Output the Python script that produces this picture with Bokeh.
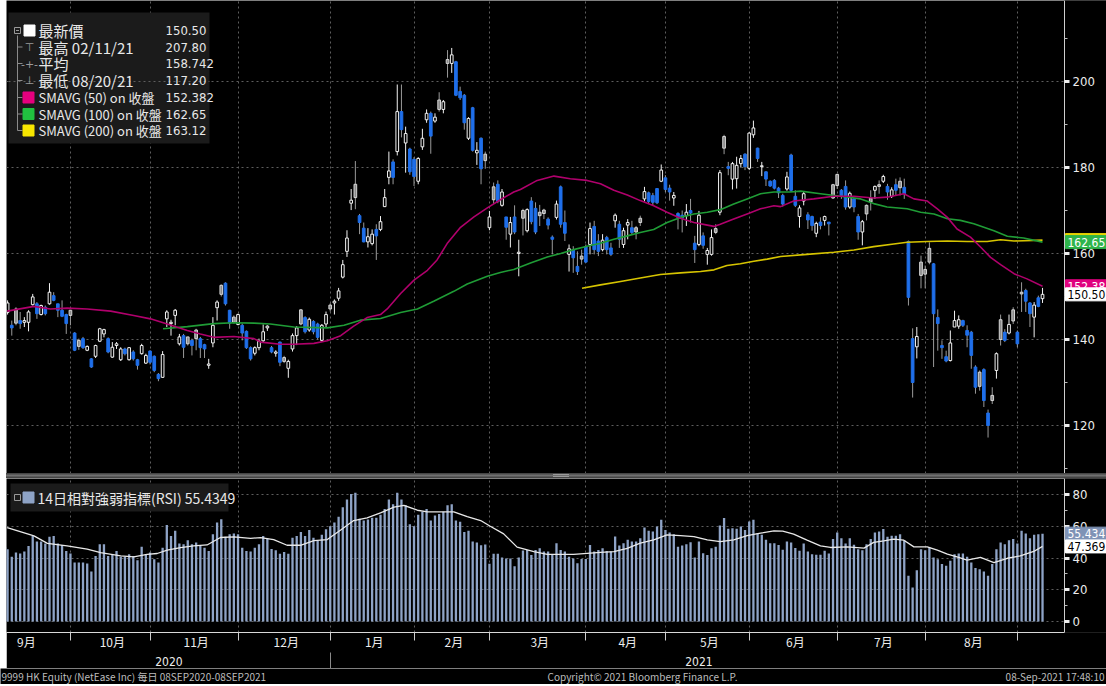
import numpy as np
import pandas as pd
from bokeh.plotting import figure
from bokeh.models import ColumnDataSource, Range1d, LinearAxis, FixedTicker, Grid, Label, Div, Spacer
from bokeh.layouts import column, row
from bokeh.embed import file_html
from bokeh.resources import INLINE
from bokeh.core.properties import value

# ---------------- data ----------------
hk_holidays = ["2020-10-01", "2020-10-02", "2020-10-26", "2020-12-25", "2021-01-01",
               "2021-02-12", "2021-02-15", "2021-04-02", "2021-04-05", "2021-04-06",
               "2021-05-19", "2021-06-14", "2021-07-01"]
first_day, last_day = "2020-09-08", "2021-09-08"

opens = [
147.0,146.3,143.3,147.1,144.4,144.0,144.0,148.1,148.3,145.8,
147.5,148.3,150.2,148.3,146.8,145.8,146.8,141.5,139.8,140.2,
137.5,135.5,136.1,139.6,141.3,140.2,135.9,138.6,135.3,137.8,
135.3,137.1,135.3,136.7,134.5,137.3,136.1,131.9,131.2,144.8,
143.7,145.6,139.0,140.9,140.6,139.8,142.2,140.2,138.8,134.0,
139.2,147.4,152.6,153.1,146.8,145.2,143.5,143.3,141.9,138.1,
136.8,138.1,139.7,142.7,138.1,136.8,139.4,135.8,133.3,137.8,
140.9,146.9,145.1,142.2,144.2,143.6,139.8,143.6,148.0,148.5,
149.6,154.5,160.5,171.7,176.1,168.8,165.9,162.7,162.3,165.6,
165.6,170.9,177.7,181.3,183.7,193.0,185.7,184.3,181.9,176.8,
184.8,191.1,192.6,190.8,195.7,193.5,205.1,204.2,204.6,197.7,
196.8,186.8,193.9,183.4,186.8,183.1,166.0,175.5,176.1,171.2,
168.5,164.5,168.5,160.0,170.0,165.3,172.2,170.5,169.6,170.1,
168.0,163.8,168.4,175.5,167.2,159.8,160.9,157.0,159.4,161.6,
162.1,166.3,162.9,160.9,163.7,161.3,167.6,166.8,162.1,166.6,
166.0,166.0,168.2,172.7,174.1,173.5,175.1,176.8,177.6,175.2,
172.9,169.3,168.9,168.8,170.0,162.4,162.1,164.1,159.8,159.8,
165.8,169.6,187.2,180.2,177.3,177.4,180.9,183.1,179.8,187.6,
184.5,180.2,179.0,176.8,177.0,175.2,173.5,175.0,182.9,173.3,
168.6,172.2,169.0,168.6,164.7,167.3,167.7,167.3,176.0,178.4,
174.7,175.6,170.8,172.7,168.6,165.0,171.2,172.9,174.7,176.0,
176.8,175.6,173.3,176.0,176.8,175.4,162.8,140.2,138.3,158.0,
156.3,161.2,157.6,145.1,138.6,136.0,135.1,142.9,143.1,144.4,
142.1,141.7,133.6,132.4,133.0,122.9,127.0,132.8,144.6,141.7,
141.5,146.9,141.7,151.0,151.4,148.5,145.2,149.7,149.5]

highs = [
148.0,149.1,144.4,147.5,146.4,145.2,146.8,150.6,148.7,148.1,
147.9,153.1,151.0,148.3,149.1,146.0,146.9,141.7,140.2,140.6,
138.6,135.7,138.8,142.7,142.5,140.5,139.4,139.4,138.2,138.1,
138.2,137.5,135.5,139.0,136.7,137.5,136.3,132.2,137.3,146.8,
144.6,147.1,141.3,141.3,140.6,140.2,142.5,140.6,139.0,135.5,
145.2,149.1,152.8,153.3,146.9,145.6,146.0,143.7,142.1,138.4,
138.4,140.2,143.5,143.3,138.5,137.5,139.5,136.2,135.3,141.4,
143.1,147.0,145.4,145.1,144.5,143.9,143.6,146.5,148.4,149.3,
152.0,158.5,165.4,175.0,181.5,169.2,167.2,165.9,165.6,166.8,
168.7,175.0,183.7,181.9,199.3,199.3,189.5,184.6,182.4,182.4,
189.0,193.5,193.0,192.6,197.5,195.7,207.3,207.8,204.8,198.8,
197.1,191.7,194.1,185.9,187.0,183.7,169.9,176.5,177.0,175.0,
168.5,168.5,171.2,163.2,170.4,170.5,173.1,171.9,171.3,170.4,
168.4,164.2,172.3,175.8,170.0,162.1,161.7,160.5,160.9,162.1,
167.2,167.6,164.5,164.5,164.1,162.5,169.3,167.6,166.0,168.0,
167.6,166.4,168.8,175.5,174.4,174.1,175.2,180.7,178.2,176.0,
174.3,169.6,170.0,171.5,172.7,164.1,169.9,164.9,161.3,165.6,
166.8,179.4,187.6,181.3,181.3,182.5,182.9,183.3,188.2,190.9,
184.6,181.3,179.1,177.0,177.3,175.5,173.9,179.0,183.2,174.7,
171.2,174.3,169.6,168.8,167.4,168.4,168.8,167.3,176.2,178.5,
175.0,177.0,174.4,172.9,169.2,167.8,171.4,174.7,175.8,177.0,
178.3,176.2,175.4,177.4,177.7,177.4,163.0,142.6,142.9,159.5,
157.2,162.6,157.8,147.0,139.8,137.4,142.1,146.7,145.6,144.6,
143.3,142.0,134.0,132.8,133.3,123.7,128.9,137.0,145.8,142.4,
145.8,147.5,142.1,153.3,151.8,148.7,148.7,150.2,152.0]

lows = [
145.5,145.8,140.9,143.3,142.5,142.9,141.9,147.9,144.8,145.6,
145.6,148.1,148.9,145.2,145.2,141.3,143.3,137.3,137.6,137.8,
137.3,133.4,135.7,139.4,140.5,136.8,135.7,137.8,135.0,136.3,
135.1,135.1,133.0,136.5,134.3,134.2,132.4,130.3,131.1,142.9,
140.9,143.3,138.6,135.7,138.6,136.3,137.5,135.7,135.7,133.2,
138.2,144.4,150.0,147.9,142.5,143.7,143.3,139.8,137.8,135.1,
136.3,137.5,139.3,142.0,136.8,136.0,133.8,134.5,131.1,137.2,
138.7,143.3,141.4,141.8,141.2,140.0,139.6,142.7,146.5,145.8,
149.0,154.2,159.2,170.1,170.3,164.5,162.6,161.4,161.9,158.5,
165.2,170.8,176.1,176.1,182.8,187.0,178.8,178.3,175.7,176.1,
184.1,190.4,183.2,190.4,193.0,192.6,200.9,202.0,196.6,195.7,
188.8,186.4,183.7,180.6,176.1,179.7,165.4,171.5,171.7,170.9,
163.2,161.4,164.5,154.7,164.2,164.9,166.8,164.5,166.4,168.0,
165.6,159.8,167.9,166.0,162.9,155.8,155.5,155.0,157.4,157.8,
159.8,159.8,159.4,160.5,159.8,159.4,166.0,161.3,161.3,163.3,
164.5,163.3,166.4,172.1,171.5,171.1,171.5,176.6,174.3,172.3,
171.1,165.6,164.9,166.4,167.2,157.8,161.7,161.1,157.4,159.5,
164.5,168.9,183.1,178.2,174.9,175.1,180.0,179.4,179.4,186.9,
181.3,178.0,175.7,175.5,174.9,172.9,170.9,174.6,174.3,170.8,
166.0,171.2,165.7,165.3,163.8,165.6,166.5,164.2,172.7,175.0,
172.7,170.2,170.4,169.6,163.2,161.9,167.7,170.0,172.7,173.9,
176.4,172.5,172.9,173.5,173.5,172.7,147.9,126.5,135.6,151.9,
151.9,157.5,133.6,137.4,135.5,134.7,134.9,142.9,142.5,142.9,
138.2,133.2,127.4,128.1,124.3,117.2,125.0,130.9,138.6,139.4,
141.2,143.6,138.2,146.4,146.4,142.9,140.5,147.5,148.5]

closes = [
146.5,148.5,142.7,143.8,143.7,144.4,146.4,149.9,146.0,147.9,
146.0,151.0,149.1,146.8,145.4,143.7,145.6,137.5,138.4,138.1,
138.4,133.6,138.6,142.5,142.3,137.1,138.2,139.0,137.8,136.7,
138.1,135.5,134.0,138.6,136.3,134.7,132.8,130.9,136.5,146.4,
144.0,146.8,140.6,138.2,139.0,138.6,140.2,138.1,137.8,134.3,
143.3,148.7,150.5,148.3,143.8,144.0,145.8,141.5,138.1,135.5,
138.1,139.6,141.8,143.1,137.1,137.1,134.7,134.9,134.9,140.9,
142.7,143.6,141.8,144.7,141.8,140.5,143.3,145.8,147.1,148.9,
151.3,157.4,163.6,172.4,173.0,167.2,162.7,163.9,164.5,164.1,
167.4,173.0,179.2,177.7,193.0,188.8,187.9,179.0,177.9,182.1,
186.8,192.6,187.3,191.7,193.5,195.3,204.2,206.2,196.8,196.2,
190.4,191.4,184.0,184.0,179.7,181.6,168.5,172.5,172.1,174.3,
166.1,167.2,165.0,160.3,168.2,170.2,167.4,165.0,168.8,169.3,
166.6,163.3,171.5,166.8,164.7,161.1,159.0,155.8,158.7,158.0,
165.8,160.9,160.5,163.1,160.9,159.8,168.9,163.3,165.3,167.2,
164.9,165.0,167.2,174.4,172.1,171.9,171.8,179.4,174.9,174.3,
173.5,168.4,168.2,169.6,169.4,160.9,168.9,161.9,160.7,163.7,
164.9,178.8,184.5,179.8,180.9,180.5,182.1,180.2,188.0,189.2,
182.1,180.4,177.3,175.7,175.2,174.1,171.5,177.8,174.7,171.2,
170.6,173.9,167.8,166.5,167.0,166.5,168.6,166.9,172.9,175.8,
173.5,170.8,174.0,170.8,165.0,167.4,169.2,172.0,175.6,175.6,
177.9,174.3,174.8,174.7,175.3,173.9,149.8,130.0,140.7,154.9,
155.2,158.0,146.0,143.7,138.1,135.0,139.2,144.4,144.6,143.3,
141.0,136.3,128.9,129.1,125.8,120.0,125.8,136.7,140.0,139.8,
143.5,144.3,139.0,150.6,148.9,146.0,148.0,147.7,150.5]

rsi = [
47.0,45.6,40.8,43.5,42.9,44.1,47.7,54.0,50.4,50.4,
49.2,53.4,54.0,49.2,48.3,44.5,42.9,37.2,37.2,37.2,
36.6,31.5,41.4,48.7,48.7,41.4,42.0,44.5,40.8,40.8,
42.4,41.4,38.7,47.1,42.4,43.5,39.3,37.2,46.6,60.9,
54.0,57.2,49.2,48.7,51.3,48.7,49.8,47.7,46.6,44.5,
55.1,62.4,64.5,53.4,55.1,55.5,55.1,46.6,44.5,44.1,
46.6,48.7,54.0,52.4,45.7,45.0,42.8,43.8,42.8,52.9,
54.0,56.5,54.0,57.7,52.9,51.0,54.8,58.2,60.1,62.5,
66.1,72.1,76.9,80.5,81.3,64.9,63.7,64.4,65.4,65.4,
67.3,70.9,76.9,74.0,81.3,76.9,73.3,61.3,60.1,67.3,
69.2,70.9,63.7,66.8,67.8,69.2,73.3,74.0,63.7,63.0,
56.5,57.2,50.5,49.8,48.1,48.6,36.5,42.8,42.8,40.4,
39.7,39.7,34.9,40.4,44.8,45.1,41.9,45.1,46.2,44.1,
44.1,41.9,49.4,45.1,44.1,40.9,39.8,36.7,39.4,39.4,
48.3,44.1,45.1,46.2,44.5,44.1,53.6,47.9,49.4,51.5,
50.4,50.4,52.5,59.3,57.2,56.8,60.0,64.2,57.8,56.1,
55.1,47.2,47.9,48.7,50.0,40.3,50.4,43.0,41.9,46.2,
47.2,60.6,65.3,58.5,58.9,58.5,60.0,57.8,63.1,64.2,
55.7,54.7,51.5,49.4,49.4,48.3,45.3,50.5,49.9,46.3,
44.6,49.2,44.2,42.5,42.1,42.1,44.6,42.9,52.0,56.2,
52.6,49.2,52.6,48.4,45.6,45.0,48.8,52.0,56.2,56.8,
58.3,53.4,54.1,54.1,55.1,51.3,28.8,21.5,32.4,45.6,
45.0,46.7,40.4,39.3,36.2,35.1,38.3,42.5,42.9,42.9,
40.8,37.2,33.7,33.0,31.6,28.8,36.2,45.6,49.9,48.8,
51.3,52.0,49.2,57.2,55.5,52.6,54.7,55.1,55.43]

rsi_ma_x = [0.9,7.3,10.5,15.2,20.0,23.2,28.0,31.1,34.3,36.7,39.1,42.3,45.4,48.6,51.8,55.0,59.0,61.4,
            64.5,67.7,70.9,74.1,77.3,80.5,83.6,86.8,90.0,93.2,95.6,98.8,101.2,104.3,107.5,110.7,113.9,
            116.2,119.4,122.6,126.6,129.8,136.1,139.3,142.5,145.7,148.9,152.0,155.2,158.4,161.6,164.8,
            168.0,171.1,174.3,177.5,180.7,183.9,186.0,188.6,191.8,195.0,197.4,201.4,205.4,207.7,210.1,
            212.5,214.9,217.3,220.5,222.9,225.3,227.6,230.0,233.2,236.4,239.6,242.7,245.9,248.0]
rsi_ma_y = [59.3,54.0,49.3,47.7,45.6,43.5,41.4,40.8,42.4,42.9,45.0,46.6,47.7,48.3,53.0,53.4,52.5,52.9,
            51.7,48.1,48.1,51.0,51.7,57.7,63.7,65.4,68.5,72.1,73.3,70.2,69.2,69.2,69.2,66.1,63.7,
            60.1,55.3,46.9,44.1,42.4,42.4,43.0,43.6,44.1,46.2,49.4,51.5,54.7,54.2,53.6,
            51.5,50.4,51.5,54.2,55.7,57.2,57.0,55.1,51.3,47.7,46.7,47.1,46.3,49.9,50.9,
            52.0,51.3,47.1,47.1,45.0,42.5,40.8,38.7,40.4,37.2,39.9,41.4,44.2,47.369]

sma50_x = [0.9,7.3,11.2,15.2,20.0,25.6,31.1,35.1,39.1,43.9,47.0,50.2,55.0,59.8,61.4,66.1,69.3,74.1,
           77.3,80.5,83.6,86.8,90.0,91.6,94.8,98.0,101.2,103.5,105.9,109.1,112.3,115.5,118.6,121.8,
           123.4,127.4,131.4,135.3,139.3,142.5,145.7,148.9,152.0,155.2,158.4,161.6,164.8,168.0,169.6,
           171.1,174.3,177.5,180.7,183.9,185.5,188.6,193.4,198.2,203.0,207.7,210.9,214.9,217.3,220.5,
           222.9,225.3,227.6,230.8,233.2,235.6,238.0,241.2,244.3,248.0]
sma50_y = [146.6,147.7,147.1,147.3,147.1,146.6,145.6,144.8,143.6,142.1,141.3,140.5,140.7,140.2,139.4,138.9,138.9,139.1,
           139.7,140.9,143.1,145.1,145.8,147.1,150.7,153.8,156.1,158.5,162.3,166.1,168.5,170.6,172.5,174.3,
           174.9,177.0,178.0,177.4,177.0,176.2,174.7,173.6,172.3,171.1,169.6,168.2,167.2,166.6,166.3,
           166.8,168.0,169.2,170.4,171.1,170.9,172.2,172.7,173.3,173.3,172.9,173.1,173.9,172.7,172.2,
           170.4,168.4,165.7,163.8,161.5,159.1,157.4,155.3,154.1,152.382]

sma100_x = [38.1,43.9,50.2,55.0,59.8,63.7,69.3,77.3,81.3,85.2,90.0,94.8,98.8,102.7,107.5,110.7,115.5,118.6,
            121.8,125.8,129.8,133.0,136.1,139.3,142.5,145.7,148.9,152.0,155.2,158.4,161.6,164.8,168.0,171.1,
            174.3,177.5,180.7,183.9,187.8,190.3,195.0,199.8,204.6,207.7,210.9,215.7,218.9,222.1,225.3,228.4,
            231.6,236.4,239.6,243.5,248.0]
sma100_y = [142.5,143.0,143.7,143.9,143.8,143.6,142.9,142.7,143.3,144.5,144.9,146.3,147.1,148.9,151.2,152.9,154.7,155.6,
            156.3,157.8,159.2,160.0,160.9,161.7,162.4,163.3,164.1,164.9,165.6,167.2,168.4,169.2,169.6,170.2,
            171.5,172.7,173.9,174.3,174.3,174.5,173.9,173.3,172.7,171.6,170.8,170.4,169.6,169.2,168.1,167.7,
            166.9,165.3,164.0,163.6,162.65]

sma200_x = [138.1,142.5,147.3,152.0,156.8,161.6,166.4,169.6,172.7,175.9,179.1,182.3,185.5,191.8,198.2,203.0,
            207.7,212.5,215.7,220.5,225.3,230.0,234.8,238.0,241.2,248.0]
sma200_y = [151.9,152.7,153.5,154.3,155.1,155.5,155.8,156.2,157.2,157.6,158.2,158.7,159.3,159.8,160.3,160.8,
            161.6,162.2,162.6,162.8,162.9,162.8,162.8,163.2,162.9,163.12]

month_labels = ["9月", "10月", "11月", "12月", "1月", "2月", "3月", "4月", "5月", "6月", "7月", "8月"]
year_labels = ["2020", "2021"]
legend_names = ["最新價", "最高 02/11/21", "平均", "最低 08/20/21",
                "SMAVG (50)  on 收盤", "SMAVG (100)  on 收盤", "SMAVG (200)  on 收盤"]
legend_values = ["150.50", "207.80", "158.742", "117.20", "152.382", "162.65", "163.12"]
last_price, last_sma50, last_sma100, last_sma200 = 150.50, 152.382, 162.65, 163.12
last_rsi, last_rsi_ma = 55.4349, 47.369
rsi_title = "14日相對強弱指標(RSI) 55.4349"
footer_left = "9999 HK Equity (NetEase Inc)  每日 08SEP2020-08SEP2021"
footer_mid = "Copyright© 2021 Bloomberg Finance L.P."
footer_right = "08-Sep-2021 17:48:10"

# ---------------- calendar ----------------
hol = pd.to_datetime(hk_holidays)
dates = pd.bdate_range(first_day, last_day)
dates = dates[~dates.isin(hol)]
n = min(len(dates), len(closes))
dates = dates[:n]
idx = np.arange(n)
per = dates.to_period("M")
firsts, lasts = {}, {}
for i, m in enumerate(per):
    firsts.setdefault(m, i)
    lasts[m] = i
months = list(firsts.keys())
bounds = [firsts[m] - 1 for m in months[1:]]
label_pos, label_map = [], {}
for m, lab in zip(months, month_labels):
    cal = pd.bdate_range(m.start_time, m.end_time)
    ncal = int((~cal.isin(hol)).sum())
    pos = round((lasts[m] - (ncal - 1) / 2.0) * 2) / 2.0
    label_pos.append(pos)
    label_map[pos] = lab

# geometry (page px): frame starts at x=6, candle i at 2.9 + 4.19*i, price scale at x=1064
LEFT = 6
W = 1100
PXU = 4.19
X0 = (LEFT - 2.9) / PXU
X1 = (1064 - 2.9) / PXU
XE = X0 + W / PXU

years = sorted(set(d.year for d in dates))
year_pos, year_map = [], {}
for k, (yv, lab) in enumerate(zip(years, year_labels)):
    ii = [i for i, d in enumerate(dates) if d.year == yv]
    hi = X1 if k == len(years) - 1 else ii[-1]
    pos = round(((max(ii[0], X0) + hi) / 2.0) * 2) / 2.0
    year_pos.append(pos)
    year_map[pos] = lab
year_sep = [firsts[m] - 1 for m in months if m.month == 1]

o = np.array(opens[:n]); c = np.array(closes[:n])
h = np.maximum.reduce([np.array(highs[:n]), o, c])
l = np.minimum.reduce([np.array(lows[:n]), o, c])
prev = np.concatenate([[c[0]], c[:-1]])
up = c >= o
grey = (~up) & (c >= prev)
BLUE = "#1f6fea"
fill = np.where(up, "black", np.where(grey, "#8a8a8a", BLUE))
line = np.where(up, "#f2f2f2", np.where(grey, "#d6d6d6", BLUE))
wick = np.where(up, "#f2f2f2", "#9a9a9a")

FONT = "Liberation Sans Narrow, DejaVu Sans Condensed, Noto Sans CJK TC, sans-serif"
CJK = "Liberation Sans Narrow, Noto Sans CJK TC, sans-serif"
GRID = "#5e5e5e"


def base_fig(h_frame, y0, y1):
    f = figure(frame_width=W, frame_height=h_frame, x_range=Range1d(X0, XE), y_range=Range1d(y0, y1),
               x_axis_location=None, y_axis_location=None, toolbar_location=None, output_backend="svg",
               background_fill_color="black", border_fill_color="black", outline_line_color=None,
               min_border=0)
    f.grid.visible = False
    return f


def style_axis(ax, ticks, minor):
    ax.ticker = FixedTicker(ticks=ticks, minor_ticks=minor)
    ax.axis_line_color = "#cfcfcf"
    ax.major_tick_line_color = "#eeeeee"
    ax.major_tick_line_width = 3
    ax.major_tick_out = 5
    ax.major_tick_in = 0
    ax.minor_tick_line_color = "#bbbbbb"
    ax.minor_tick_out = 3
    ax.minor_tick_in = 0
    ax.major_label_text_color = "#ececec"
    ax.major_label_text_font = FONT
    ax.major_label_text_font_size = "13px"
    ax.major_label_standoff = 3


def fx(px):
    return X0 + (px - LEFT) / PXU


def txt(fig, x, y, s, size="13px", color="#e8e8e8", font=FONT, align="left"):
    fig.text(x=[x], y=[y], text=[s], text_font=value(font), text_font_size=size, text_color=color,
             text_align=align, text_baseline="middle")


def tag(fig, y, s, bg, fg):
    fig.add_layout(Label(x=X1, y=y, x_units="data", y_units="data", text=s, x_offset=1,
                         text_align="left", text_baseline="middle", text_font=FONT, text_font_size="12px",
                         text_color=fg, background_fill_color=bg, border_line_color=bg, padding=2))


# ---------------- price panel (frame y 0..473, 200 at y=81, 4.3 px per unit) ----------------
PH = 473
p = base_fig(PH, 120 - (PH - 425) / 4.3, 200 + 81 / 4.3)
p.add_layout(Grid(dimension=0, ticker=FixedTicker(ticks=bounds), grid_line_color=GRID, grid_line_dash="2 3"))
p.add_layout(Grid(dimension=1, ticker=FixedTicker(ticks=[120, 140, 160, 180, 200]),
                  grid_line_color=GRID, grid_line_dash="2 3"))
p.quad(left=[X1], right=[XE + 5], bottom=[0], top=[400], fill_color="black", line_color=None)
pax = LinearAxis(fixed_location=X1)
style_axis(pax, [120, 140, 160, 180, 200], [110, 130, 150, 170, 190, 210])
p.add_layout(pax, "right")

src = ColumnDataSource(dict(x=idx, o=o, h=h, l=l, c=c, top=np.maximum(o, c), bot=np.minimum(o, c),
                            fill=fill, line=line, wick=wick))
p.segment(x0="x", y0="l", x1="x", y1="h", line_color="wick", line_width=1, source=src)
p.vbar(x="x", width=0.64, top="top", bottom="bot", fill_color="fill", line_color="line",
       line_width=1, source=src)

p.line(sma200_x, sma200_y, line_color="#d6c400", line_width=1.6)
p.line(sma100_x, sma100_y, line_color="#1f9c36", line_width=1.6)
p.line(sma50_x, sma50_y, line_color="#b0006c", line_width=1.6)


def fy(py):
    return 200 - (py - 81) / 4.3


# legend box
p.quad(left=fx(8), right=fx(209), top=fy(12), bottom=fy(143), fill_color="#1b1b1b", line_color=None)
p.segment(x0=[fx(8)], y0=[200], x1=[fx(209)], y1=[200], line_color=GRID, line_dash="2 3")
rows = [30, 46.5, 63, 80, 97, 113.5, 130]
p.segment(x0=[fx(17)], y0=[fy(35)], x1=[fx(17)], y1=[fy(130)], line_color="#8a8a8a", line_width=1)
p.segment(x0=[fx(17)] * 6, y0=[fy(r) for r in rows[1:]], x1=[fx(22)] * 6, y1=[fy(r) for r in rows[1:]],
          line_color="#8a8a8a", line_width=1)
p.quad(left=fx(14), right=fx(20), top=fy(27), bottom=fy(33), fill_color="#1b1b1b", line_color="#9a9a9a")
p.segment(x0=[fx(15.5)], y0=[fy(30)], x1=[fx(18.5)], y1=[fy(30)], line_color="#9a9a9a")
p.scatter([fx(29)], [fy(rows[0])], marker="square", size=11, fill_color="white", line_color="white")
for r, s in zip(rows[1:4], ["⊤", "-+-", "⊥"]):
    txt(p, fx(29), fy(r), s, size="11px", color="#9a9a9a", font="DejaVu Sans", align="center")
for r, col in zip(rows[4:], ["#e6007e", "#21c140", "#f7e600"]):
    p.scatter([fx(28)], [fy(r)], marker="square", size=11, fill_color=col, line_color=col)
for k, (r, s, v) in enumerate(zip(rows, legend_names, legend_values)):
    txt(p, fx(38), fy(r), s, size=("15px" if k < 4 else "13px"), font=CJK)
    txt(p, fx(165), fy(r), v, size="13px")

tag(p, last_sma200, "163.12", "#e6d400", "black")
tag(p, last_sma100, "162.65", "#2fb44b", "white")
tag(p, last_sma50, "152.38", "#e0007f", "white")
tag(p, last_price, "150.50", "white", "black")

grip = ("<div style='position:absolute;left:547px;top:1px;width:16px;height:3px;"
        "border-top:1px solid #9a9a9a;border-bottom:1px solid #9a9a9a;'></div>")
divider = Div(text=grip, width=W, height=5, margin=0,
              styles={"background": "linear-gradient(#3a3a3a, #707070, #3a3a3a)", "position": "relative",
                      "overflow": "hidden"})

# ---------------- RSI panel ----------------
p2 = base_fig(154, (624 - 635) / 1.585, (624 - 481) / 1.585)
p2.add_layout(Grid(dimension=0, ticker=FixedTicker(ticks=bounds), grid_line_color=GRID, grid_line_dash="2 3"))
p2.add_layout(Grid(dimension=1, ticker=FixedTicker(ticks=[0, 20, 40, 60, 80]),
                   grid_line_color=GRID, grid_line_dash="2 3"))
p2.quad(left=[X1], right=[XE + 5], bottom=[-50], top=[200], fill_color="black", line_color=None)
rax = LinearAxis(fixed_location=X1)
style_axis(rax, [0, 20, 40, 60, 80], [10, 30, 50, 70])
p2.add_layout(rax, "right")

p2.vbar(x=idx, top=np.array(rsi[:n]), bottom=0, width=0.55, fill_color="#8ea3c6", line_color=None)
p2.line(rsi_ma_x, rsi_ma_y, line_color="#e8e8e8", line_width=1.3)


def fr(py):
    return (624 - py) / 1.585


p2.quad(left=fx(10), right=fx(228), top=fr(486), bottom=fr(514), fill_color="#1b1b1b", line_color=None)
p2.quad(left=fx(14), right=fx(20), top=fr(497), bottom=fr(503), fill_color="#1b1b1b", line_color="#9a9a9a")
p2.scatter([fx(28)], [fr(500)], marker="square", size=11, fill_color="#8ea3c6", line_color="#8ea3c6")
txt(p2, fx(37), fr(500), rsi_title, size="14px", font=CJK)
tag(p2, last_rsi, "55.434", "#7f93b6", "white")
tag(p2, last_rsi_ma, "47.369", "white", "black")

max_ = LinearAxis(ticker=FixedTicker(ticks=label_pos, minor_ticks=bounds), major_label_overrides=label_map,
                  bounds=(X0, X1), axis_line_color="#d8d8d8", major_tick_line_color=None,
                  major_tick_out=0, major_tick_in=0, minor_tick_line_color="#cccccc",
                  minor_tick_out=8, minor_tick_in=0, major_label_text_color="#ececec",
                  major_label_text_font=CJK, major_label_text_font_size="12px", major_label_standoff=-8)
p2.add_layout(max_, "below")

yax = LinearAxis(ticker=FixedTicker(ticks=year_pos, minor_ticks=year_sep), major_label_overrides=year_map,
                 axis_line_color=None, major_tick_line_color=None, major_tick_out=0, major_tick_in=0,
                 minor_tick_line_color="#8a8a8a", minor_tick_out=17, minor_tick_in=0,
                 major_label_text_color="#ececec", major_label_text_font=FONT,
                 major_label_text_font_size="12px", major_label_standoff=-13)
p2.add_layout(yax, "below")

# ---------------- footer (full page width) ----------------
FWID = LEFT + W
f3 = figure(frame_width=FWID, frame_height=16, x_range=Range1d(0, FWID), y_range=Range1d(0, 1),
            x_axis_location=None, y_axis_location=None, toolbar_location=None, output_backend="svg",
            background_fill_color="black", border_fill_color="black", outline_line_color=None, min_border=0)
f3.grid.visible = False
txt(f3, 1, 0.5, footer_left, size="10px", color="#bdbdbd", font=CJK)
txt(f3, 642, 0.5, footer_mid, size="10px", color="#bdbdbd", font=CJK, align="center")
txt(f3, FWID - 2, 0.5, footer_right, size="10px", color="#bdbdbd", font=CJK, align="right")

top_block = row(Spacer(width=LEFT, height=10), column(p, divider, p2))
layout = column(top_block, f3)
open("out.html", "w").write(file_html(layout, INLINE))
